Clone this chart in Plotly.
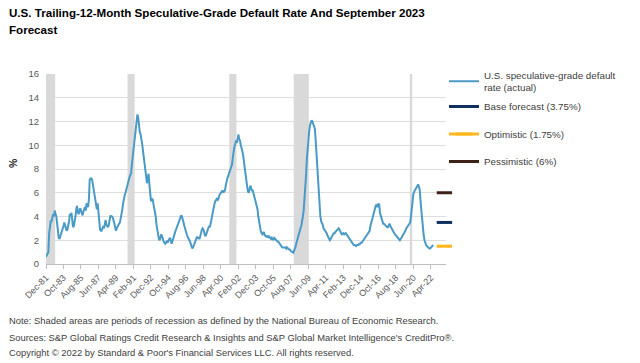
import plotly.graph_objects as go
import pandas as pd

# ---------------- data ----------------
series_start = "1981-12-01"  # monthly, Dec-1981 .. Jul-2022
actual_rate = [
    0.6,
    0.7, 0.8, 1.0, 2.6, 3.5, 3.6, 3.6, 3.9, 4.2, 4.0, 4.5, 4.2,        # 1982
    4.0, 3.4, 2.6, 2.2, 2.1, 2.3, 2.5, 2.7, 3.0, 3.2, 3.5, 3.3,        # 1983
    3.0, 2.8, 2.9, 3.2, 3.6, 4.2, 4.1, 4.3, 3.8, 3.1, 3.2, 3.5,        # 1984
    4.0, 4.6, 4.9, 4.4, 4.2, 4.4, 4.7, 4.5, 4.3, 4.1, 4.4, 4.7,        # 1985
    4.8, 4.5, 5.1, 4.9, 4.8, 5.5, 7.1, 7.2, 7.2, 7.1, 6.6, 6.1,        # 1986
    5.6, 5.2, 5.0, 4.6, 5.1, 4.3, 3.4, 2.9, 2.8, 2.8, 3.0, 3.2,        # 1987
    3.0, 3.3, 3.7, 3.3, 3.2, 3.1, 3.3, 3.6, 4.1, 4.0, 4.0, 3.9,        # 1988
    3.7, 3.4, 3.1, 2.8, 3.0, 3.2, 3.3, 3.4, 3.5, 3.8, 4.2, 4.6,        # 1989
    5.1, 5.6, 5.8, 6.0, 6.3, 6.6, 6.8, 7.0, 7.3, 7.5, 7.6, 8.4,        # 1990
    9.2, 9.8, 10.2, 10.8, 11.4, 12.2, 12.6, 12.3, 11.6, 11.1, 10.9, 10.6,  # 1991
    10.1, 9.5, 8.9, 8.2, 7.6, 7.2, 6.8, 7.3, 7.6, 6.7, 6.0, 5.3,       # 1992
    5.4, 5.5, 5.1, 4.8, 4.5, 4.0, 3.3, 2.8, 2.4, 2.1, 2.0, 2.3,        # 1993
    2.5, 2.3, 2.0, 1.9, 1.8, 1.7, 1.8, 1.9, 1.8, 2.0, 2.1, 2.2,        # 1994
    2.0, 1.7, 1.9, 2.2, 2.5, 2.6, 2.8, 3.0, 3.2, 3.4, 3.6, 3.8,        # 1995
    4.0, 4.1, 4.0, 3.8, 3.5, 3.2, 2.9, 2.7, 2.5, 2.3, 2.2, 2.0,        # 1996
    1.9, 1.7, 1.5, 1.3, 1.4, 1.6, 1.8, 2.0, 2.2, 2.3, 2.2, 2.2,        # 1997
    2.1, 2.3, 2.6, 2.9, 3.0, 2.9, 2.7, 2.4, 2.4, 2.6, 2.7, 3.0,        # 1998
    3.2, 3.1, 3.3, 3.7, 4.1, 4.5, 4.8, 5.1, 5.3, 5.4, 5.5, 5.4,        # 1999
    5.5, 5.8, 5.9, 6.0, 6.1, 6.0, 6.2, 6.1, 6.2, 6.6, 7.0, 7.2,        # 2000
    7.4, 7.6, 7.8, 8.0, 8.2, 8.4, 9.0, 9.6, 9.9, 10.1, 10.4, 10.2,     # 2001
    10.6, 10.9, 10.5, 10.4, 10.0, 9.8, 9.5, 9.1, 8.5, 8.0, 7.3, 6.7,   # 2002
    6.5, 6.1, 6.0, 6.3, 6.6, 6.4, 6.2, 6.2, 5.9, 5.7, 5.5, 5.2,        # 2003
    4.9, 4.6, 4.0, 3.5, 3.0, 2.8, 2.6, 2.5, 2.6, 2.7, 2.4, 2.4,        # 2004
    2.3, 2.3, 2.4, 2.2, 2.3, 2.2, 2.1, 2.2, 2.1, 2.0, 2.2, 2.1,        # 2005
    2.0, 2.0, 1.9, 1.9, 1.8, 1.6, 1.5, 1.5, 1.4, 1.4, 1.4, 1.4,        # 2006
    1.4, 1.3, 1.4, 1.3, 1.3, 1.2, 1.2, 1.1, 1.0, 1.0, 0.95, 1.1,       # 2007
    1.3, 1.5, 1.8, 2.1, 2.3, 2.6, 2.8, 3.0, 3.2, 3.5, 4.0, 4.5,        # 2008
    5.3, 6.2, 7.4, 8.8, 9.9, 10.4, 11.2, 11.7, 12.0, 12.1, 12.0, 11.8, # 2009
    11.7, 11.4, 10.6, 9.5, 8.4, 7.2, 5.6, 4.6, 4.0, 3.6, 3.5, 3.3,     # 2010
    3.0, 2.9, 2.8, 2.7, 2.6, 2.4, 2.3, 2.1, 2.0, 2.1, 2.3, 2.4,        # 2011
    2.5, 2.6, 2.6, 2.7, 2.8, 2.8, 2.9, 3.0, 2.9, 2.7, 2.6, 2.5,        # 2012
    2.6, 2.6, 2.5, 2.6, 2.6, 2.5, 2.4, 2.3, 2.2, 2.1, 2.0, 1.9,        # 2013
    1.8, 1.7, 1.6, 1.6, 1.5, 1.5, 1.6, 1.6, 1.6, 1.7, 1.7, 1.8,        # 2014
    1.8, 1.9, 2.0, 2.1, 2.2, 2.3, 2.4, 2.5, 2.6, 2.7, 2.8, 3.2,        # 2015
    3.5, 3.8, 4.1, 4.4, 4.6, 4.8, 5.0, 4.9, 4.8, 5.1, 5.0, 4.3,        # 2016
    4.0, 3.7, 3.5, 3.4, 3.4, 3.3, 3.3, 3.2, 3.1, 3.1, 3.3, 3.4,        # 2017
    3.2, 3.1, 3.0, 2.9, 2.7, 2.6, 2.5, 2.4, 2.3, 2.2, 2.1, 2.0,        # 2018
    2.0, 2.1, 2.2, 2.3, 2.4, 2.6, 2.7, 2.8, 3.0, 3.1, 3.1, 3.2,        # 2019
    3.3, 3.5, 4.0, 4.8, 5.5, 5.9, 6.1, 6.2, 6.3, 6.5, 6.6, 6.7,        # 2020
    6.5, 6.2, 5.3, 4.5, 3.6, 2.9, 2.4, 2.0, 1.7, 1.6, 1.5, 1.4,        # 2021
    1.4, 1.3, 1.3, 1.4, 1.4, 1.5, 1.6,                                 # 2022
]

forecast_date = "2023-09-01"
forecast_names = ["Base forecast (3.75%)", "Optimistic (1.75%)", "Pessimistic (6%)"]
forecast_values = [3.5, 1.5, 6.0]
forecast_colors = ["#0F2F5F", "#FFB61C", "#3E2117"]

recession_starts = ["1981-12-01", "1990-07-01", "2001-03-01", "2007-12-01", "2020-02-01"]
recession_ends = ["1982-11-01", "1991-03-01", "2001-11-01", "2009-06-01", "2020-04-01"]

tick_labels = ["Dec-81", "Oct-83", "Aug-85", "Jun-87", "Apr-89", "Feb-91", "Dec-92",
               "Oct-94", "Aug-96", "Jun-98", "Apr-00", "Feb-02", "Dec-03", "Oct-05",
               "Aug-07", "Jun-09", "Apr-11", "Feb-13", "Dec-14", "Oct-16", "Aug-18",
               "Jun-20", "Apr-22"]
y_ticks = [0, 2, 4, 6, 8, 10, 12, 14, 16]

title_lines = ["U.S. Trailing-12-Month Speculative-Grade Default Rate And September 2023",
               "Forecast"]
notes = [
    "Note: Shaded areas are periods of recession as defined by the National Bureau of Economic Research.",
    "Sources: S&P Global Ratings Credit Research & Insights and S&P Global Market Intelligence's CreditPro®.",
    "Copyright © 2022 by Standard & Poor's Financial Services LLC. All rights reserved.",
]

# ---------------- figure ----------------
FONT = "Liberation Sans, Arial, sans-serif"
L, R, T, B = 46, 194, 74, 99
PW, PH = 640 - L - R, 363 - T - B


def px_x(x):
    return (x - L) / PW


def px_y(y):
    return (363 - B - y) / PH


dates = pd.date_range(series_start, periods=len(actual_rate), freq="MS")
tick_dates = [pd.to_datetime(t, format="%b-%y") for t in tick_labels]

fig = go.Figure()

fig.add_trace(go.Scatter(
    x=dates, y=actual_rate, mode="lines",
    name="U.S. speculative-grade default<br>rate (actual)",
    line=dict(color="#4A9AC8", width=2),
    legend="legend",
))

for i, (nm, val, col) in enumerate(zip(forecast_names, forecast_values, forecast_colors)):
    fig.add_trace(go.Scatter(
        x=[forecast_date], y=[val], mode="lines+markers", name=nm,
        line=dict(color=col, width=3),
        marker=dict(symbol="line-ew", size=11, color=col, line=dict(color=col, width=3)),
        cliponaxis=False, legend="legend2", legendgroup=f"f{i}",
    ))

half_month = pd.Timedelta(days=15)
for s, e in zip(recession_starts, recession_ends):
    fig.add_shape(type="rect", xref="x", yref="y",
                  x0=pd.Timestamp(s) - half_month, x1=pd.Timestamp(e) + half_month,
                  y0=0, y1=16, fillcolor="#D9D9D9", line_width=0, layer="between")

legend_font = dict(family=FONT, size=9.8, color="#404040")
fig.update_layout(
    width=640, height=363,
    margin=dict(l=L, r=R, t=T, b=B),
    paper_bgcolor="white", plot_bgcolor="white",
    font=dict(family=FONT, size=10, color="#404040"),
    showlegend=True,
    legend=dict(x=px_x(444), y=px_y(62), xanchor="left", yanchor="top",
                font=legend_font, bgcolor="rgba(0,0,0,0)", itemwidth=30),
    legend2=dict(x=px_x(444), y=px_y(92), xanchor="left", yanchor="top",
                 font=legend_font, bgcolor="rgba(0,0,0,0)", itemwidth=30,
                 tracegroupgap=8.5, traceorder="grouped"),
    xaxis=dict(
        type="date",
        range=["1981-12-01", "2023-11-01"],
        tickvals=tick_dates, ticktext=tick_labels, tickangle=-45,
        tickfont=dict(family=FONT, size=9, color="#595959"),
        showgrid=False, showline=True, linecolor="#BFBFBF", linewidth=1,
        ticks="outside", ticklen=4, tickcolor="#BFBFBF",
        zeroline=False,
    ),
    yaxis=dict(
        range=[0, 16], tickvals=y_ticks,
        tickfont=dict(family=FONT, size=9.5, color="#595959"),
        showgrid=True, gridcolor="#DEDEDE", gridwidth=1,
        zeroline=False, showline=False, ticks="", ticklabelstandoff=6,
    ),
)

for txt, ypix in zip(title_lines, [13, 30]):
    fig.add_annotation(text=f"<b>{txt}</b>", xref="paper", yref="paper",
                       x=px_x(7), y=px_y(ypix), xanchor="left", yanchor="middle",
                       showarrow=False, font=dict(family=FONT, size=11.6, color="#000000"))

fig.add_annotation(text="<b>%</b>", xref="paper", yref="paper",
                   x=px_x(13), y=px_y(163), xanchor="center", yanchor="middle",
                   textangle=-90, showarrow=False,
                   font=dict(family=FONT, size=10.5, color="#262626"))

for txt, ypix in zip(notes, [320, 337, 352]):
    fig.add_annotation(text=txt, xref="paper", yref="paper",
                       x=px_x(7), y=px_y(ypix),
                       xanchor="left", yanchor="middle", showarrow=False,
                       font=dict(family=FONT, size=9.4, color="#404040"))

fig.write_html("out.html", config={"displayModeBar": False},
               post_script="document.body.style.margin='0px';")
